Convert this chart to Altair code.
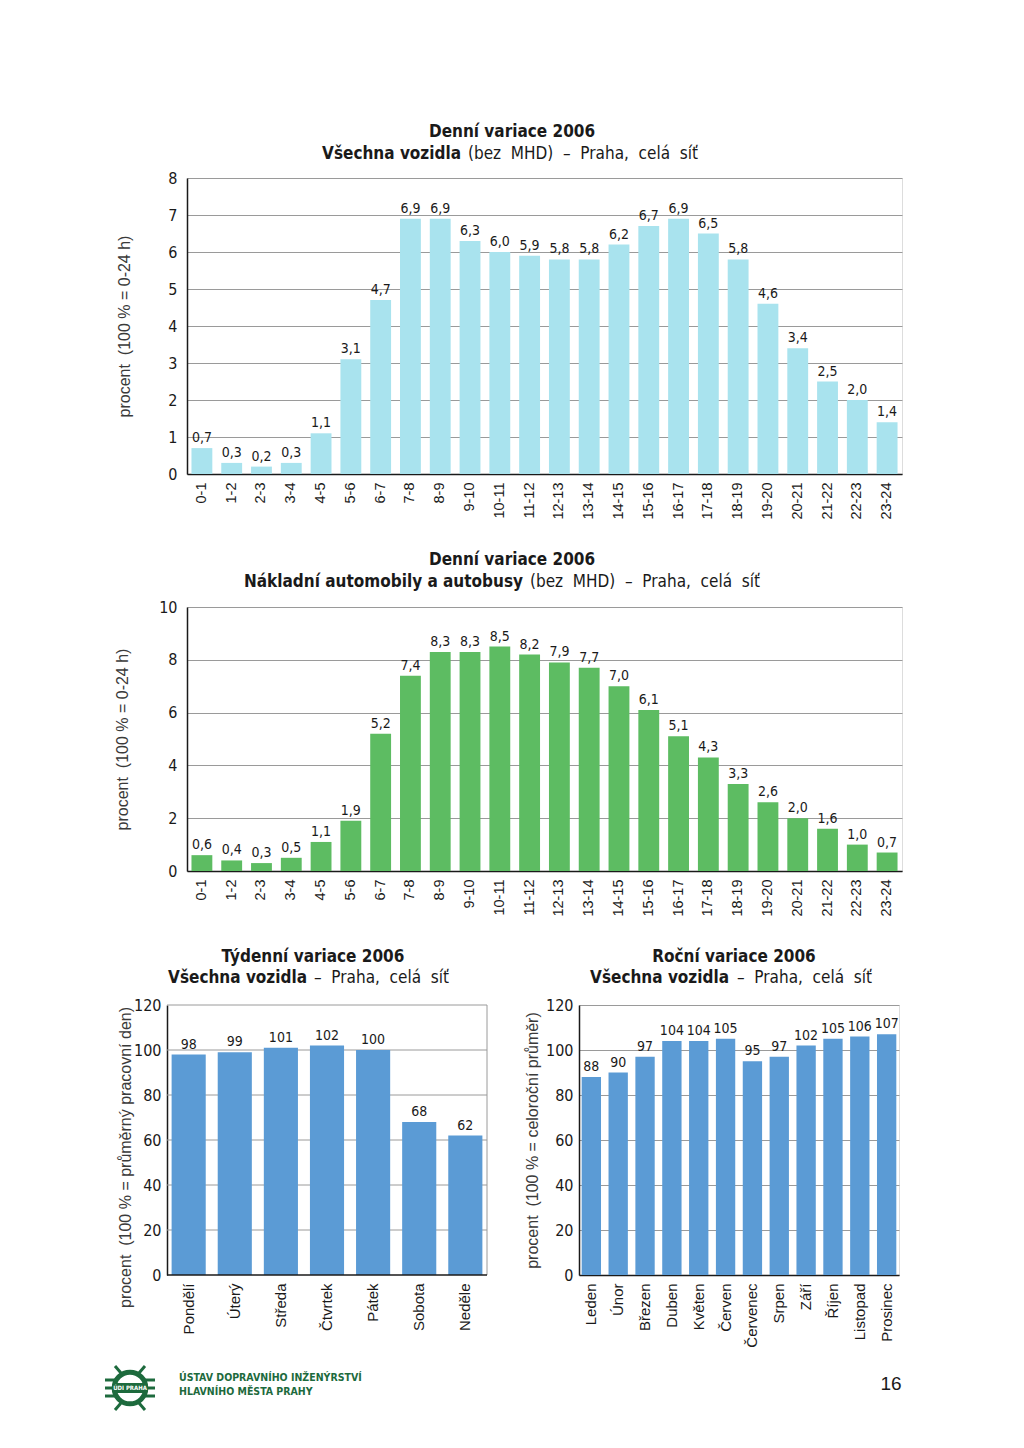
import altair as alt
import pandas as pd

# ---------------- data ----------------
hours = ["0-1", "1-2", "2-3", "3-4", "4-5", "5-6", "6-7", "7-8", "8-9", "9-10",
         "10-11", "11-12", "12-13", "13-14", "14-15", "15-16", "16-17", "17-18",
         "18-19", "19-20", "20-21", "21-22", "22-23", "23-24"]
all_vehicles = [0.7, 0.3, 0.2, 0.3, 1.1, 3.1, 4.7, 6.9, 6.9, 6.3, 6.0, 5.9,
                5.8, 5.8, 6.2, 6.7, 6.9, 6.5, 5.8, 4.6, 3.4, 2.5, 2.0, 1.4]
trucks_buses = [0.6, 0.4, 0.3, 0.5, 1.1, 1.9, 5.2, 7.4, 8.3, 8.3, 8.5, 8.2,
                7.9, 7.7, 7.0, 6.1, 5.1, 4.3, 3.3, 2.6, 2.0, 1.6, 1.0, 0.7]
days = ["Pondělí", "Úterý", "Středa", "Čtvrtek", "Pátek", "Sobota", "Neděle"]
weekly = [98, 99, 101, 102, 100, 68, 62]
months = ["Leden", "Únor", "Březen", "Duben", "Květen", "Červen", "Červenec",
          "Srpen", "Září", "Říjen", "Listopad", "Prosinec"]
yearly = [88, 90, 97, 104, 104, 105, 95, 97, 102, 105, 106, 107]

# ---------------- style ----------------
NARROW = "Liberation Sans Narrow, DejaVu Sans Condensed, Arial Narrow, sans-serif"
SANS = "Liberation Sans, Arial, Helvetica, sans-serif"
INK = "#1a1a1a"
GRID = "#9a9a9a"
CYAN = "#a9e3ee"
GREEN = "#5dbc62"
BLUE = "#5b9bd5"
LOGO = "#1d6a3d"
NB = "\u00a0"


def dec(v):
    return f"{v:.1f}".replace(".", ",")


def wide(s):
    return s.replace(" ", NB + NB)


def panel(cats, vals, labels, color, ymax, ystep, w, h, ytitle, lab_pad, title_pad,
          pin, pout, line1, bold2, reg2, cx, bx, rx, ty1, ty2, xfs,
          spacer_x=None, shift=0, extra=(), title_y=None):
    """Bar panel.  shift>0 draws the panel `shift` px left of its layout origin."""
    df = pd.DataFrame({"cat": cats, "val": vals, "lab": labels})
    ticks = list(range(0, ymax + 1, ystep))
    manual = shift > 0
    pw = w - shift
    xscale = alt.Scale(paddingInner=pin, paddingOuter=pout)
    if manual:
        xscale = alt.Scale(paddingInner=pin, paddingOuter=pout, range=[-shift, pw])
    xenc = alt.X("cat:N", sort=cats, scale=xscale,
                 axis=alt.Axis(title=None, labelAngle=-90, labelAlign="right",
                               labelBaseline="middle", labelFont=SANS,
                               labelFontSize=xfs, labelColor=INK, labelPadding=8,
                               ticks=False, domain=not manual, domainColor=INK,
                               domainWidth=1.5, grid=False))
    axis_kw = dict(values=ticks, title=ytitle,
                   titleFont=SANS, titleFontSize=16,
                   titleFontWeight="normal", titleColor="#3a3a3a",
                   titlePadding=title_pad, labelFont=NARROW,
                   labelFontSize=16, labelColor=INK, offset=shift,
                   labelPadding=lab_pad, ticks=False, domainColor=INK,
                   domainWidth=1.5, grid=not manual, gridColor=GRID,
                   gridWidth=1)
    if title_y is not None:
        axis_kw["titleY"] = title_y
    yaxis = alt.Axis(**axis_kw)
    yscale = alt.Scale(domain=[0, ymax], nice=False)
    yenc = alt.Y("val:Q", scale=yscale, axis=yaxis)
    layers = []
    if manual:
        gdf = pd.DataFrame({"g": ticks[1:]})
        layers.append(alt.Chart(gdf).mark_rule(color=GRID, strokeWidth=1).encode(
            y=alt.Y("g:Q", scale=yscale, axis=yaxis),
            x=alt.value(-shift), x2=alt.value(pw)))
    bars = alt.Chart(df).mark_bar(color=color).encode(x=xenc, y=yenc)
    vtext = alt.Chart(df).mark_text(baseline="bottom", dy=-3, font=NARROW,
                                    fontSize=14, color=INK).encode(
        x=xenc, y=yenc, text="lab:N")
    layers += [bars, vtext]
    tdf = pd.DataFrame({"a": [line1], "b": [bold2], "c": [wide(reg2)]})
    if manual:
        layers.append(alt.Chart(tdf).mark_rule(color=GRID, strokeWidth=1).encode(
            x=alt.value(pw), y=alt.value(0), y2=alt.value(h)))
        layers.append(alt.Chart(tdf).mark_rule(color=INK, strokeWidth=1.5).encode(
            x=alt.value(-shift), x2=alt.value(pw), y=alt.value(h)))
    layers.append(alt.Chart(tdf).mark_text(
        font=NARROW, fontSize=17, fontWeight="bold", align="center",
        baseline="middle", color=INK).encode(
        x=alt.value(cx), y=alt.value(ty1), text="a:N"))
    layers.append(alt.Chart(tdf).mark_text(
        font=NARROW, fontSize=17, fontWeight="bold", align="right",
        baseline="middle", color=INK).encode(
        x=alt.value(bx), y=alt.value(ty2), text="b:N"))
    layers.append(alt.Chart(tdf).mark_text(
        font=NARROW, fontSize=17, fontWeight="normal", align="left",
        baseline="middle", color=INK).encode(
        x=alt.value(rx), y=alt.value(ty2), text="c:N"))
    if spacer_x is not None:
        layers.append(alt.Chart(tdf).mark_rule(opacity=0).encode(
            x=alt.value(spacer_x), x2=alt.value(spacer_x + 2), y=alt.value(0)))
    layers += list(extra)
    ch = alt.layer(*layers).properties(width=pw, height=h)
    if manual:
        ch = ch.properties(view=alt.ViewBackground(stroke="transparent"))
    return ch


# ---------------- footer pieces (drawn below the bottom charts) ----------------
fdf = pd.DataFrame({
    "l1": ["ÚSTAV DOPRAVNÍHO INŽENÝRSTVÍ"],
    "l2": ["HLAVNÍHO MĚSTA PRAHY"],
    "badge": ["ÚDI PRAHA"],
    "page": ["16"],
})
fbase = alt.Chart(fdf)
LX, LY = -57, 383  # logo centre, relative to the weekly chart's layout origin
ring = fbase.mark_point(shape="circle", filled=False, size=1000, strokeWidth=5,
                        color=LOGO, opacity=1).encode(
    x=alt.value(LX), y=alt.value(LY))
rails = [fbase.mark_rule(color=LOGO, strokeWidth=3).encode(
    x=alt.value(LX + a), x2=alt.value(LX + b), y=alt.value(LY + d))
    for (a, b) in [(-25, -13), (13, 25)] for d in (-8, 0, 8)]
badge = fbase.mark_rect(color=LOGO).encode(
    x=alt.value(LX - 16), x2=alt.value(LX + 16),
    y=alt.value(LY - 5), y2=alt.value(LY + 5))
badge_t = fbase.mark_text(font=NARROW, fontSize=6, fontWeight="bold",
                          color="white").encode(
    x=alt.value(LX), y=alt.value(LY), text="badge:N")
diag = [fbase.mark_rule(color=LOGO, strokeWidth=3).encode(
    x=alt.value(LX + a), x2=alt.value(LX + b),
    y=alt.value(LY + c), y2=alt.value(LY + d))
    for (a, b, c, d) in [(-9, -15, -15, -22), (9, 15, -15, -22),
                         (-9, -15, 15, 22), (9, 15, 15, 22)]]
ft1 = fbase.mark_text(font=NARROW, fontSize=10.5, fontWeight="bold", color=LOGO,
                      align="left", baseline="middle").encode(
    x=alt.value(-8), y=alt.value(373), text="l1:N")
ft2 = fbase.mark_text(font=NARROW, fontSize=10.5, fontWeight="bold", color=LOGO,
                      align="left", baseline="middle").encode(
    x=alt.value(-8), y=alt.value(387), text="l2:N")
page = fbase.mark_text(font=SANS, fontSize=19, color=INK, align="center",
                       baseline="middle").encode(
    x=alt.value(312), y=alt.value(379), text="page:N")

c1 = panel(hours, all_vehicles, [dec(v) for v in all_vehicles], CYAN, 8, 1,
           715, 296, "procent" + NB + NB + "(100 % = 0-24 h)", 10, 35, 0.3, 0.15,
           "Denní variace 2006", "Všechna vozidla", "(bez MHD) – Praha, celá síť",
           325, 274, 281, -46, -24, 14.5, spacer_x=-95)
c2 = panel(hours, trucks_buses, [dec(v) for v in trucks_buses], GREEN, 10, 2,
           715, 264, "procent" + NB + NB + "(100 % = 0-24 h)", 10, 28, 0.3, 0.15,
           "Denní variace 2006", "Nákladní automobily a autobusy",
           "(bez MHD) – Praha, celá síť",
           325, 336, 343, -47, -25, 14.5, spacer_x=-95)
c3 = panel(days, weekly, [str(v) for v in weekly], BLUE, 120, 20,
           320, 270, "procent" + NB + NB + "(100 % = průměrný pracovní den)", 6, 0,
           0.26, 0.1, "Týdenní variace 2006", "Všechna vozidla",
           "– Praha, celá síť", 126, 120, 127, -48, -27, 15, shift=20,
           extra=(ring, *rails, *diag, badge, badge_t, ft1, ft2), title_y=152)
c4 = panel(months, yearly, [str(v) for v in yearly], BLUE, 120, 20,
           320, 270, "procent" + NB + NB + "(100 % = celoroční průměr)", 6, 5,
           0.28, 0.1, "Roční variace 2006", "Všechna vozidla",
           "– Praha, celá síť", 155, 150, 158, -48, -27, 15,
           extra=(page,))

row = alt.hconcat(c3, c4, spacing=16)
chart = alt.concat(c1, c2, row, columns=1, spacing=30).properties(
    padding={"left": 83, "top": 114, "right": 0, "bottom": 0}
).configure_view(stroke=GRID, strokeWidth=1).configure(background="white")

chart.save("out.html", embed_options={"renderer": "svg", "actions": False})
